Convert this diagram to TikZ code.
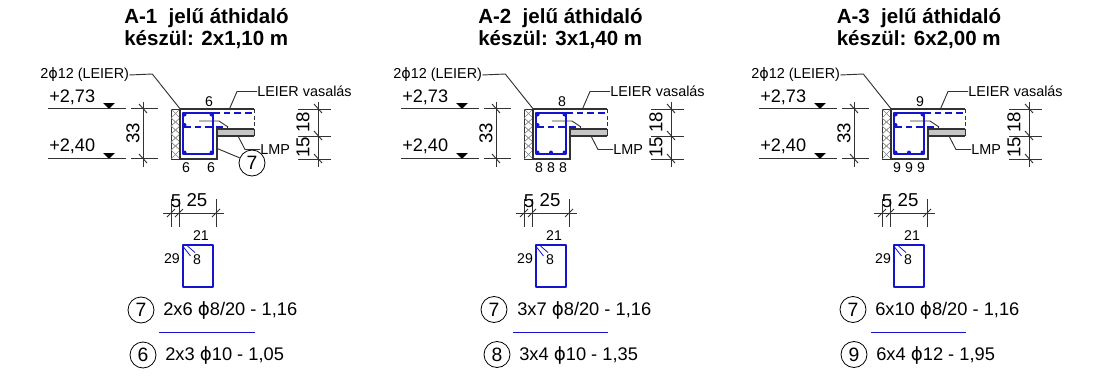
\documentclass[tikz,border=0pt]{standalone}
\usepackage{fontspec}
\setmainfont{Liberation Sans}
\newfontfamily\symfont{DejaVu Sans}
\usetikzlibrary{positioning}
\definecolor{rebarblue}{RGB}{20,20,205}
\definecolor{linegray}{RGB}{50,50,50}
\newcommand{\fia}{{\symfont ϕ}}
\tikzset{
  thinline/.style={draw=linegray, line width=0.7pt},
  outline/.style={draw=linegray, line width=1.1pt},
  stirrup/.style={draw=rebarblue, line width=2pt, line join=round},
  slabbar/.style={draw=rebarblue, line width=0.8pt, dashed, dash pattern=on 5pt off 3pt},
  marker/.style={draw=black, line width=0.6pt, circle, minimum size=19.5pt, inner sep=0pt, font=\fontsize{14.5}{14.5}\selectfont},
  title/.style={font=\fontsize{15.4}{16.5}\selectfont\bfseries, align=left, anchor=west, inner sep=0pt},
  levelnum/.style={font=\fontsize{13.6}{14}\selectfont, anchor=base west, inner sep=0pt},
  dimbig/.style={font=\fontsize{14}{14}\selectfont, inner sep=0pt},
  dimsmall/.style={font=\fontsize{10.6}{11}\selectfont, inner sep=0pt},
  leadertext/.style={font=\fontsize{10.8}{12}\selectfont, inner sep=0pt},
  listtext/.style={font=\fontsize{13.7}{14}\selectfont, anchor=west, inner sep=0pt}
}
% one lintel: section, dimensions and bent bar shape
\newcommand{\lintel}[2]{%
\begin{scope}[shift={(#1,0)}]
% levels
\draw[thinline] (48,108.7) -- (126,108.7);
\draw[thinline] (48,158.7) -- (126,158.7);
\fill[black] (103,103) -- (115,103) -- (109,108.7) -- cycle;
\fill[black] (103,153) -- (115,153) -- (109,158.7) -- cycle;
\node[levelnum] at (49,102) {+2,73};
\node[levelnum] at (49,151.5) {+2,40};
% height dimension
\draw[thinline] (131,108.7) -- (158,108.7);
\draw[thinline] (131,158.7) -- (158,158.7);
\draw[thinline] (143,102) -- (143,167);
\draw[thinline] (139,104) -- (147,113);
\draw[thinline] (139,154) -- (147,163);
\node[dimbig, rotate=90] at (133,133.5) {33};
% right dimension
\draw[thinline] (298,109) -- (331,109);
\draw[thinline] (298,136) -- (331,136);
\draw[thinline] (298,159) -- (331,159);
\draw[thinline] (318,102) -- (318,167);
\draw[thinline] (314,104) -- (322,113);
\draw[thinline] (314,131) -- (322,140);
\draw[thinline] (314,154) -- (322,163);
\node[dimbig, rotate=90] at (303,122) {18};
\node[dimbig, rotate=90] at (303,147.5) {15};
% masonry with insulation
\draw[thinline] (171,109) rectangle (180,159);
\draw[draw=gray, line width=0.5pt] (171,109) -- (180,118) -- (171,126) -- (180,134) -- (171,142) -- (180,150) -- (171,159);
\draw[draw=gray, line width=0.5pt] (180,109) -- (171,118) -- (180,126) -- (171,134) -- (180,142) -- (171,150) -- (180,159);
% beam and slab
\fill[gray!45] (217,129) rectangle (254,136);
\draw[outline] (180,109) -- (254,109);
\draw[outline] (180,109) -- (180,159) -- (217,159) -- (217,129) -- (254,129);
\draw[outline] (217,136) -- (254,136);
\draw[thinline, dashed, dash pattern=on 3pt off 2pt] (254,109) -- (254,129);
\draw[thinline] (254,129) -- (254,136);
% bars
\draw[slabbar] (213,113) -- (254,113);
\draw[slabbar] (184,127) -- (228,127);
\draw[thinline] (199,121) -- (219,121) -- (228,127);
\draw[stirrup] (183,113) rectangle (213,154);
\fill[rebarblue] (184.5,114.5) circle (2);
\fill[rebarblue] (211.5,114.5) circle (2);
\fill[rebarblue] (184.5,125) circle (2);
\fill[rebarblue] (184.5,152.5) circle (2);
\fill[rebarblue] (211.5,152.5) circle (2);
% leaders
\node[leadertext, anchor=west] (rebar#2) at (40,75) {2\fia12 (LEIER)};
\node[leadertext, anchor=west] (vasalas#2) at (257,91.5) {LEIER vasalás};
\node[leadertext, anchor=west] (lmp#2) at (260,149.5) {LMP};
\coordinate (rebarend#2) at (181,110);
\coordinate (vasalasend#2) at (229,110);
\coordinate (lmpend#2) at (238,136);
\draw[thinline] (rebar#2.east) -- ++(23,-1) -- (rebarend#2);
\draw[thinline] (vasalas#2.west) -- ++(-20,0) -- (vasalasend#2);
\draw[thinline] (lmp#2.west) -- ++(-15,0) -- (lmpend#2);
% bar shape
\draw[thinline] (163,213) -- (224,213);
\draw[thinline] (171,199) -- (171,227);
\draw[thinline] (179,199) -- (179,227);
\draw[thinline] (216,199) -- (216,227);
\draw[thinline] (167,217) -- (175,209);
\draw[thinline] (175,217) -- (183,209);
\draw[thinline] (212,217) -- (220,209);
\node[dimbig] at (176,201) {5};
\node[dimbig] at (197,200.5) {25};
\draw[stirrup, line width=1.7pt] (183,245) rectangle (213,287);
\draw[draw=rebarblue, line width=0.6pt] (183.5,247) -- (190.5,256);
\draw[draw=rebarblue, line width=0.6pt] (187.5,246) -- (195,252.5);
\node[dimsmall] at (201,236) {21};
\node[dimsmall] at (172,259) {29};
\node[dimsmall] at (197,259.5) {8};
\end{scope}}

\begin{document}
\begin{tikzpicture}[x=0.75pt, y=-0.75pt]
\useasboundingbox (0,0) rectangle (1101,382);
\lintel{0}{A}
\lintel{353}{B}
\lintel{711}{C}

\node[title] (titleA) at (124,29) {A-1\ \ jelű áthidaló\\készül: 2x1,10 m};
\node[title] (titleB) at (478,29) {A-2\ \ jelű áthidaló\\készül: 3x1,40 m};
\node[title] (titleC) at (836.5,29) {A-3\ \ jelű áthidaló\\készül: 6x2,00 m};

% section numbers, first lintel
\node[dimsmall] (topA) at (209,102) {6};
\node[dimsmall] (botAa) at (186,167.5) {6};
\node[dimsmall] (botAb) at (211,167.5) {6};
\node[marker, fill=white] (sevenA) at (252,163) {7};
\coordinate (stirrupA) at (216,148);
\draw[thinline] (sevenA) -- (stirrupA);
% section numbers, second lintel
\node[dimsmall] (topB) at (562,102) {8};
\node[dimsmall] (botBa) at (539,167.5) {8};
\node[dimsmall] (botBb) at (551,167.5) {8};
\node[dimsmall] (botBc) at (563,167.5) {8};
\fill[rebarblue] (551,152.5) circle (2);
% section numbers, third lintel
\node[dimsmall] (topC) at (920,102) {9};
\node[dimsmall] (botCa) at (897,167.5) {9};
\node[dimsmall] (botCb) at (909,167.5) {9};
\node[dimsmall] (botCc) at (921,167.5) {9};
\fill[rebarblue] (909,152.5) circle (2);

% bar lists
\node[marker] (listAa) at (141,310) {7};
\node[listtext] (textAa) at (163,310) {2x6 \fia8/20 - 1,16};
\draw[draw=rebarblue, line width=0.6pt] (159,332) -- (255,332);
\node[marker] (listAb) at (143,355) {6};
\node[listtext] (textAb) at (165,355) {2x3 \fia10 - 1,05};

\node[marker] (listBa) at (494,309.5) {7};
\node[listtext] (textBa) at (517,310) {3x7 \fia8/20 - 1,16};
\draw[draw=rebarblue, line width=0.6pt] (513,332) -- (608,332);
\node[marker] (listBb) at (497,354.5) {8};
\node[listtext] (textBb) at (519,355) {3x4 \fia10 - 1,35};

\node[marker] (listCa) at (853,309.5) {7};
\node[listtext] (textCa) at (875,310) {6x10 \fia8/20 - 1,16};
\draw[draw=rebarblue, line width=0.6pt] (871,332) -- (966,332);
\node[marker] (listCb) at (854,354.5) {9};
\node[listtext] (textCb) at (876,355) {6x4 \fia12 - 1,95};
\end{tikzpicture}
\end{document}
